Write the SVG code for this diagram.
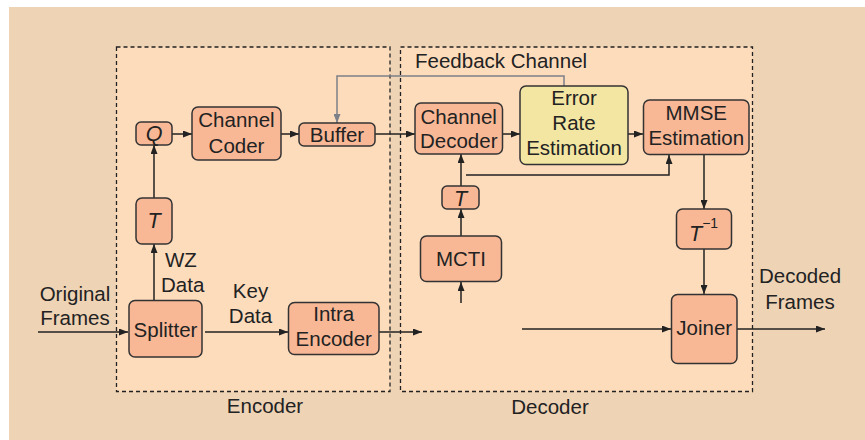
<svg xmlns="http://www.w3.org/2000/svg" width="865" height="440" viewBox="0 0 865 440">
<defs>
<marker id="ah" markerUnits="userSpaceOnUse" markerWidth="9" markerHeight="7" refX="9" refY="3.5" orient="auto"><path d="M0,0 L9,3.5 L0,7 z" fill="#222"/></marker>
<marker id="ahg" markerUnits="userSpaceOnUse" markerWidth="9" markerHeight="7" refX="9" refY="3.5" orient="auto"><path d="M0,0 L9,3.5 L0,7 z" fill="#7c8088"/></marker>
<style>
.node rect{fill:#f8b896;stroke:#333;stroke-width:1.5}
.node.y rect{fill:#f3e6a2}
text{font-family:"Liberation Sans",Arial,sans-serif;font-size:20.5px;fill:#222}
.c{text-anchor:middle}
.i{font-style:italic;font-size:21.5px}
.conn path{fill:none;stroke:#222;stroke-width:1.5;marker-end:url(#ah)}
.conn path.g{stroke:#7c8088;marker-end:url(#ahg)}
.box{fill:#fddcbc;stroke:#222;stroke-width:1.3;stroke-dasharray:4 3}
</style>
</defs>
<rect x="0" y="0" width="865" height="440" fill="#ffffff"/>
<rect x="9" y="7" width="856" height="433" fill="#eed3b5"/>
<g id="encoder-box"><rect class="box" x="116.5" y="47" width="273.5" height="344.5"/><text class="c" x="265" y="413">Encoder</text></g>
<g id="decoder-box"><rect class="box" x="400.5" y="47" width="352" height="344.5"/><text class="c" x="550" y="414">Decoder</text></g>
<text x="415" y="68">Feedback Channel</text>

<g class="conn" id="connectors">
<path d="M38,332 H128"/>
<path d="M154,300 V244"/>
<path d="M154,198 V145"/>
<path d="M172,134 H192"/>
<path d="M281,134 H299"/>
<path d="M375,134 H415"/>
<path class="g" d="M564,86 V76 H337 V123"/>
<path d="M205,332 H288"/>
<path d="M379,332 H422"/>
<path d="M502,134 H520"/>
<path d="M628,134 H643"/>
<path d="M461,186 V154"/>
<path d="M466,175 H669 V155"/>
<path d="M461,236 V209"/>
<path d="M461,303 V282"/>
<path d="M704,155 V209"/>
<path d="M704,249 V294"/>
<path d="M522,329 H671"/>
<path d="M737,329 H825"/>
</g>

<g class="node" id="q"><rect x="136" y="122" width="36" height="23" rx="5"/><text class="c i" x="154" y="141">Q</text></g>
<g class="node" id="channel-coder"><rect x="192" y="107" width="89" height="53" rx="6"/><text class="c" x="236.5" y="127">Channel</text><text class="c" x="236.5" y="152.5">Coder</text></g>
<g class="node" id="buffer"><rect x="299" y="123" width="76" height="23" rx="5"/><text class="c" x="337" y="141.5">Buffer</text></g>
<g class="node" id="t-enc"><rect x="136" y="198" width="36" height="46" rx="6"/><text class="c i" x="154" y="227.5">T</text></g>
<g class="node" id="splitter"><rect x="129" y="300.5" width="73" height="56.5" rx="6"/><text class="c" x="165.5" y="336.5">Splitter</text></g>
<g class="node" id="intra-encoder"><rect x="288.5" y="302.5" width="90.5" height="52" rx="6"/><text class="c" x="333.75" y="321">Intra</text><text class="c" x="333.75" y="346">Encoder</text></g>

<g class="node" id="channel-decoder"><rect x="415" y="103" width="87.5" height="51" rx="6"/><text class="c" x="458.75" y="123.5">Channel</text><text class="c" x="458.75" y="147.5">Decoder</text></g>
<g class="node y" id="error-rate"><rect x="520" y="86" width="108" height="78.5" rx="6"/><text class="c" x="574" y="104.5">Error</text><text class="c" x="574" y="129.5">Rate</text><text class="c" x="574" y="154.5">Estimation</text></g>
<g class="node" id="mmse"><rect x="643.5" y="100" width="105.5" height="54.5" rx="6"/><text class="c" x="696.25" y="119.5">MMSE</text><text class="c" x="696.25" y="145">Estimation</text></g>
<g class="node" id="t-dec"><rect x="442" y="186" width="37" height="23" rx="5"/><text class="c i" x="460.5" y="205.5">T</text></g>
<g class="node" id="mcti"><rect x="420.5" y="236" width="81" height="45.5" rx="6"/><text class="c" x="461" y="265.5">MCTI</text></g>
<g class="node" id="t-inv"><rect x="676.5" y="209" width="55" height="40" rx="6"/><text x="689" y="240.5"><tspan class="i">T</tspan><tspan font-size="14" dy="-12.5">−1</tspan></text></g>
<g class="node" id="joiner"><rect x="671.5" y="294.5" width="65.5" height="69" rx="6"/><text class="c" x="704.25" y="335">Joiner</text></g>

<g id="labels">
<text class="c" x="75" y="300.5">Original</text><text class="c" x="75" y="325">Frames</text>
<text x="165" y="266.5">WZ</text><text x="161" y="291.5">Data</text>
<text class="c" x="250.5" y="298">Key</text><text class="c" x="250.5" y="322.5">Data</text>
<text class="c" x="800" y="283">Decoded</text><text class="c" x="800" y="309">Frames</text>
</g>
</svg>
